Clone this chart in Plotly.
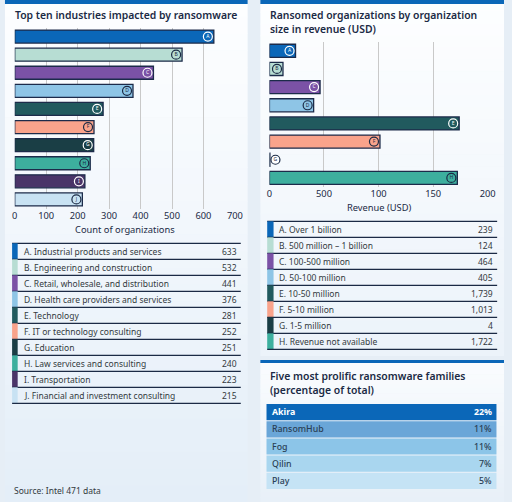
import plotly.graph_objects as go

# ---------------- data ----------------
ind_letters = ["A", "B", "C", "D", "E", "F", "G", "H", "I", "J"]
ind_names = ["Industrial products and services", "Engineering and construction",
             "Retail, wholesale, and distribution", "Health care providers and services",
             "Technology", "IT or technology consulting", "Education",
             "Law services and consulting", "Transportation",
             "Financial and investment consulting"]
ind_counts = [633, 532, 441, 376, 281, 252, 251, 240, 223, 215]

rev_letters = ["A", "B", "C", "D", "E", "F", "G", "H"]
rev_names = ["Over 1 billion", "500 million \u2013 1 billion", "100-500 million",
             "50-100 million", "10-50 million", "5-10 million", "1-5 million",
             "Revenue not available"]
rev_counts = [239, 124, 464, 405, 1739, 1013, 4, 1722]
rev_tickvals = [0, 500, 1000, 1500, 2000]
rev_ticktext = ["0", "500", "100", "150", "200"]

families = ["Akira", "RansomHub", "Fog", "Qilin", "Play"]
family_pct = [22, 11, 11, 7, 5]

# ---------------- styles ----------------
W, H = 512, 502
FONT = "Noto Sans"
NAVY = "#1b2a45"
TXT = "#333a40"
BLUE = "#0b67b8"
OUTLINE = "#1c2b4a"
pal = ["#0b67b8", "#b7ddd3", "#7b52a6", "#8ec5e6", "#215a5e",
       "#f9a38b", "#1a3e45", "#3daf9e", "#4a3468", "#c8e2f3"]
light = {"B", "D", "F", "H", "J"}
fam_colors = ["#0b67b8", "#6aa6d8", "#8cc5e8", "#a9d6ef", "#c5e3f5"]


def px(x):
    return x / W


def py(y):
    return 1 - y / H


fig = go.Figure()
shapes = []
annots = []

# panel backgrounds (vertical gradient emulated with bands)
def panel(x0, x1, y0, y1, c_top=(253, 254, 255), c_bot=(228, 238, 248), n=30):
    for i in range(n):
        t = i / (n - 1)
        c = tuple(int(round(a + (b - a) * t)) for a, b in zip(c_top, c_bot))
        ya = y0 + (y1 - y0) * i / n
        yb = y0 + (y1 - y0) * (i + 1) / n + 0.6
        shapes.append(dict(type="rect", xref="paper", yref="paper", layer="below",
                           x0=px(x0), x1=px(x1), y0=py(ya), y1=py(min(yb, y1)),
                           fillcolor="rgb(%d,%d,%d)" % c, line=dict(width=0)))

panel(2, 250, 0, 502)
panel(263, 512, 0, 356, c_bot=(236, 243, 250))
panel(263, 512, 360, 502, c_top=(250, 252, 254), c_bot=(232, 240, 248))
for (x0, x1, y0, y1) in [(2, 250, 0, 4), (263, 512, 0, 4), (263, 512, 360, 363)]:
    shapes.append(dict(type="rect", xref="paper", yref="paper", layer="below",
                       x0=px(x0), x1=px(x1), y0=py(y1), y1=py(y0),
                       fillcolor=BLUE, line=dict(width=0)))

# ---------------- left bar chart ----------------
fig.add_trace(go.Bar(x=ind_counts, y=ind_letters, orientation="h",
                     marker=dict(color=pal, line=dict(color=OUTLINE, width=1.3)),
                     xaxis="x", yaxis="y", hoverinfo="skip", showlegend=False))
fig.add_trace(go.Scatter(
    x=[v - 19 for v in ind_counts], y=ind_letters, mode="markers+text",
    text=ind_letters, textposition="middle center",
    textfont=dict(size=5, color=[NAVY if l in light else "white" for l in ind_letters], family=FONT),
    marker=dict(size=9, color=pal,
                line=dict(width=1.2, color=[NAVY if l in light else "white" for l in ind_letters])),
    xaxis="x", yaxis="y", hoverinfo="skip", showlegend=False))

# ---------------- right bar chart ----------------
rev_pal = pal[:8]
rev_light = {"B", "D", "F", "G", "H"}
fig.add_trace(go.Bar(x=rev_counts, y=rev_letters, orientation="h",
                     marker=dict(color=rev_pal, line=dict(color=OUTLINE, width=1.3)),
                     xaxis="x2", yaxis="y2", hoverinfo="skip", showlegend=False))
fig.add_trace(go.Scatter(
    x=[max(v - 55, 55) for v in rev_counts], y=rev_letters, mode="markers+text",
    text=rev_letters, textposition="middle center",
    textfont=dict(size=5, color=[NAVY if l in rev_light else "white" for l in rev_letters], family=FONT),
    marker=dict(size=9, color=[c if v > 100 else "white" for c, v in zip(rev_pal, rev_counts)],
                line=dict(width=1.2, color=[NAVY if l in rev_light else "white" for l in rev_letters])),
    xaxis="x2", yaxis="y2", hoverinfo="skip", showlegend=False))

axis_font = dict(family=FONT, size=9.3, color=NAVY)
fig.update_layout(
    xaxis=dict(domain=[px(12), px(237)], range=[0, 700], dtick=100, showgrid=True,
               gridcolor="#c9c9c9", gridwidth=1, zeroline=False, showline=False,
               tickfont=axis_font, ticks="", anchor="y", fixedrange=True),
    yaxis=dict(domain=[py(208.5), py(27.5)], range=[9.5, -0.5], type="category",
               showticklabels=False, showgrid=False, zeroline=False, anchor="x"),
    xaxis2=dict(domain=[px(272.3), px(495.3)], range=[0, 2000], tickvals=rev_tickvals,
                ticktext=rev_ticktext, showgrid=True, gridcolor="#c9c9c9", gridwidth=1,
                zeroline=False, showline=False, tickfont=axis_font, ticks="", anchor="y2"),
    yaxis2=dict(domain=[py(187), py(41.7)], range=[7.5, -0.5], type="category",
                showticklabels=False, showgrid=False, zeroline=False, anchor="x2"),
    bargap=0.28,
)

# titles
title_font = dict(family=FONT, size=10.4, color=NAVY, weight=600)
annots.append(dict(x=px(10), y=py(15), xref="paper", yref="paper", xanchor="left",
                   yanchor="middle", showarrow=False, font=title_font,
                   text="Top ten industries impacted by ransomware"))
annots.append(dict(x=px(271), y=py(22.5), xref="paper", yref="paper", xanchor="left",
                   yanchor="middle", showarrow=False, font=title_font, align="left",
                   text="Ransomed organizations by organization<br>size in revenue (USD)"))
annots.append(dict(x=px(271), y=py(383), xref="paper", yref="paper", xanchor="left",
                   yanchor="middle", showarrow=False, font=title_font, align="left",
                   text="Five most prolific ransomware families<br>(percentage of total)"))
annots.append(dict(x=px(124.5), y=py(229), xref="paper", yref="paper", xanchor="center",
                   yanchor="middle", showarrow=False, font=axis_font,
                   text="Count of organizations"))
annots.append(dict(x=px(383.8), y=py(207), xref="paper", yref="paper", xanchor="center",
                   yanchor="middle", showarrow=False, font=axis_font,
                   text="Revenue (USD)"))
annots.append(dict(x=px(9), y=py(490), xref="paper", yref="paper", xanchor="left",
                   yanchor="middle", showarrow=False,
                   font=dict(family=FONT, size=8.5, color=TXT),
                   text="Source: Intel 471 data"))

# ---------------- tables ----------------
tfont = dict(family=FONT, size=8.5, color=TXT)


def table(letters, names, values, colors, x0, x1, stripe_w, text_x, val_x, top, row_h):
    shapes.append(dict(type="line", xref="paper", yref="paper",
                       x0=px(x0), x1=px(x1), y0=py(top), y1=py(top),
                       line=dict(color=NAVY, width=1.2)))
    for i, (l, n, v, c) in enumerate(zip(letters, names, values, colors)):
        ya, yb = top + i * row_h, top + (i + 1) * row_h
        shapes.append(dict(type="rect", xref="paper", yref="paper",
                           x0=px(x0), x1=px(x0 + stripe_w), y0=py(yb), y1=py(ya),
                           fillcolor=c, line=dict(width=0)))
        shapes.append(dict(type="line", xref="paper", yref="paper",
                           x0=px(x0), x1=px(x1), y0=py(yb), y1=py(yb),
                           line=dict(color=NAVY, width=1.2)))
        ym = (ya + yb) / 2
        annots.append(dict(x=px(text_x), y=py(ym), xref="paper", yref="paper",
                           xanchor="left", yanchor="middle", showarrow=False,
                           font=tfont, text="%s. %s" % (l, n)))
        annots.append(dict(x=px(val_x), y=py(ym), xref="paper", yref="paper",
                           xanchor="right", yanchor="middle", showarrow=False,
                           font=tfont, text=f"{v:,}"))


table(ind_letters, ind_names, ind_counts, pal, 9.3, 243, 5.7, 19, 241, 243.3, 16)
table(rev_letters, rev_names, rev_counts, rev_pal, 270, 505, 6.5, 280, 503, 221.3, 16)

# families table
fam_top, fam_h = 404, 17.2
for i, (f, p, c) in enumerate(zip(families, family_pct, fam_colors)):
    ya, yb = fam_top + i * fam_h, fam_top + (i + 1) * fam_h - 1
    shapes.append(dict(type="rect", xref="paper", yref="paper",
                       x0=px(269.3), x1=px(504.3), y0=py(yb), y1=py(ya),
                       fillcolor=c, line=dict(width=0)))
    col = "white" if i == 0 else "#2a3f55"
    ff = dict(family=FONT, size=8.8, color=col, weight=700 if i == 0 else 500)
    ym = (ya + yb) / 2
    annots.append(dict(x=px(273), y=py(ym), xref="paper", yref="paper", xanchor="left",
                       yanchor="middle", showarrow=False, font=ff, text=f))
    annots.append(dict(x=px(502), y=py(ym), xref="paper", yref="paper", xanchor="right",
                       yanchor="middle", showarrow=False, font=ff, text=f"{p}%"))

fig.update_layout(
    width=W, height=H, margin=dict(l=0, r=0, t=0, b=0),
    paper_bgcolor="#e6eef6", plot_bgcolor="rgba(0,0,0,0)",
    shapes=shapes, annotations=annots, font=dict(family=FONT),
)

fig.write_html("out.html", config={"displayModeBar": False},
               post_script="document.body.style.margin='0';document.body.style.overflow='hidden';")
